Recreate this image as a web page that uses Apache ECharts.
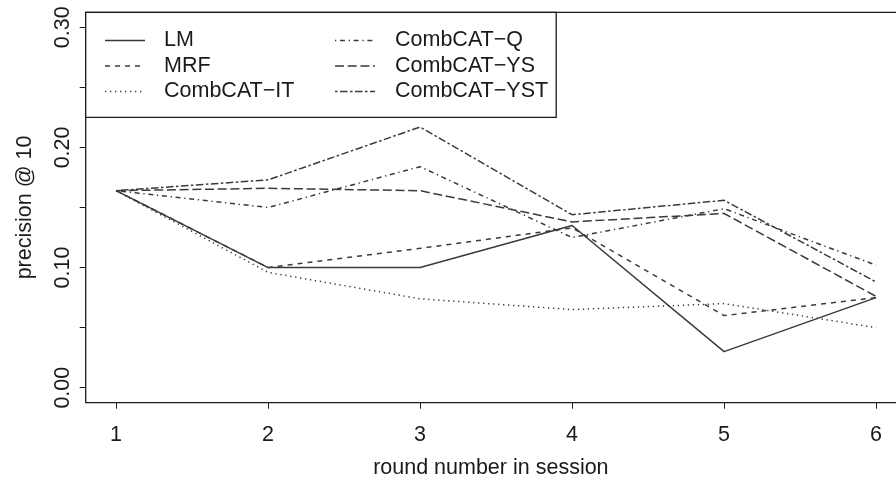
<!DOCTYPE html>
<html><head><meta charset="utf-8">
<script src="https://cdn.jsdelivr.net/npm/echarts@6/dist/echarts.min.js"></script>
<style>html,body{margin:0;padding:0;background:#fff}#c{width:896px;height:485px}</style>
</head><body><div id="c"></div>
<script>
var rounds = [1, 2, 3, 4, 5, 6];
var seriesNames = ['LM', 'MRF', 'CombCAT\u2212IT', 'CombCAT\u2212Q', 'CombCAT\u2212YS', 'CombCAT\u2212YST'];
var lmValues   = [0.164, 0.100, 0.100, 0.135, 0.030, 0.075];
var mrfValues  = [0.164, 0.100, 0.116, 0.133, 0.060, 0.075];
var itValues   = [0.164, 0.096, 0.074, 0.065, 0.070, 0.050];
var qValues    = [0.164, 0.150, 0.184, 0.125, 0.149, 0.102];
var ysValues   = [0.164, 0.166, 0.164, 0.138, 0.145, 0.076];
var ystValues  = [0.164, 0.173, 0.217, 0.144, 0.156, 0.088];
var yTickValues = [0, 0.05, 0.10, 0.15, 0.20, 0.25, 0.30];
var yLabelValues = [0, 0.10, 0.20, 0.30];
var yTickLabels = ['0.00', '0.10', '0.20', '0.30'];

var allValues = [lmValues, mrfValues, itValues, qValues, ysValues, ystValues];
var dashes = ['solid', [5, 5], [1.3, 3.7], [1.3, 3.7, 5, 3.7], [9, 3.7], [2.5, 2.5, 7.5, 2.5]];
var FONT = '"Liberation Sans", Arial, Helvetica, sans-serif';
var LC = '#3a3a3a';
var TC = '#1a1a1a';
var FS = 21.5;

var chart = echarts.init(document.getElementById('c'), null, {renderer: 'canvas'});

var series = seriesNames.map(function (n, i) {
  return {
    name: n, type: 'line', symbol: 'none', silent: true, animation: false,
    data: rounds.map(function (r, j) { return [r, allValues[i][j]]; }),
    lineStyle: {color: LC, width: 1.5, type: dashes[i]}
  };
});

var graphics = [
  {type: 'rect', silent: true, z: 10, shape: {x: 85.7, y: 12.3, width: 830, height: 390.4},
   style: {fill: null, stroke: TC, lineWidth: 1.3}},
  {type: 'rect', silent: true, z: 11, shape: {x: 85.7, y: 12.3, width: 470.5, height: 105},
   style: {fill: '#fff', stroke: TC, lineWidth: 1.3}}
];
var rowsY = [40.5, 66, 91.5];
seriesNames.forEach(function (n, i) {
  var col = Math.floor(i / 3), row = i % 3;
  var x0 = col === 0 ? 105 : 335;
  var tx = col === 0 ? 164 : 395;
  var y = rowsY[row];
  graphics.push({
    type: 'line', silent: true, z: 12,
    shape: {x1: x0, y1: y, x2: x0 + 40, y2: y},
    style: {stroke: LC, lineWidth: 1.5, lineDash: dashes[i] === 'solid' ? null : dashes[i]}
  });
  graphics.push({
    type: 'text', silent: true, z: 12, x: tx, y: y,
    style: {text: n, font: FS + 'px ' + FONT, fill: TC, verticalAlign: 'middle', align: 'left'}
  });
});

var option = {
  animation: false,
  grid: {left: 85.7, right: 0, top: 12.3, bottom: 82.3, containLabel: false},
  xAxis: {
    type: 'value', min: 0.8, max: 6.131,
    name: 'round number in session', nameLocation: 'middle', nameGap: 54,
    nameTextStyle: {fontFamily: FONT, fontSize: FS, color: TC},
    axisLine: {show: false, onZero: false},
    axisTick: {show: true, length: 6, customValues: rounds, lineStyle: {color: TC, width: 1}},
    axisLabel: {fontFamily: FONT, fontSize: FS, color: TC, margin: 21, customValues: rounds},
    splitLine: {show: false}
  },
  yAxis: {
    type: 'value', min: -0.0125, max: 0.3125,
    name: 'precision @ 10', nameLocation: 'middle', nameGap: 50, nameRotate: 90,
    nameTextStyle: {fontFamily: FONT, fontSize: FS, color: TC},
    axisLine: {show: false, onZero: false},
    axisTick: {show: true, length: 6, customValues: yTickValues, lineStyle: {color: TC, width: 1}},
    axisLabel: {
      fontFamily: FONT, fontSize: FS, color: TC, rotate: 90, margin: 12,
      customValues: yLabelValues,
      formatter: function (v) {
        var k = Math.round(v * 10);
        return yTickLabels[k] || '';
      }
    },
    splitLine: {show: false}
  },
  graphic: graphics,
  series: series
};
chart.setOption(option);
</script></body></html>
